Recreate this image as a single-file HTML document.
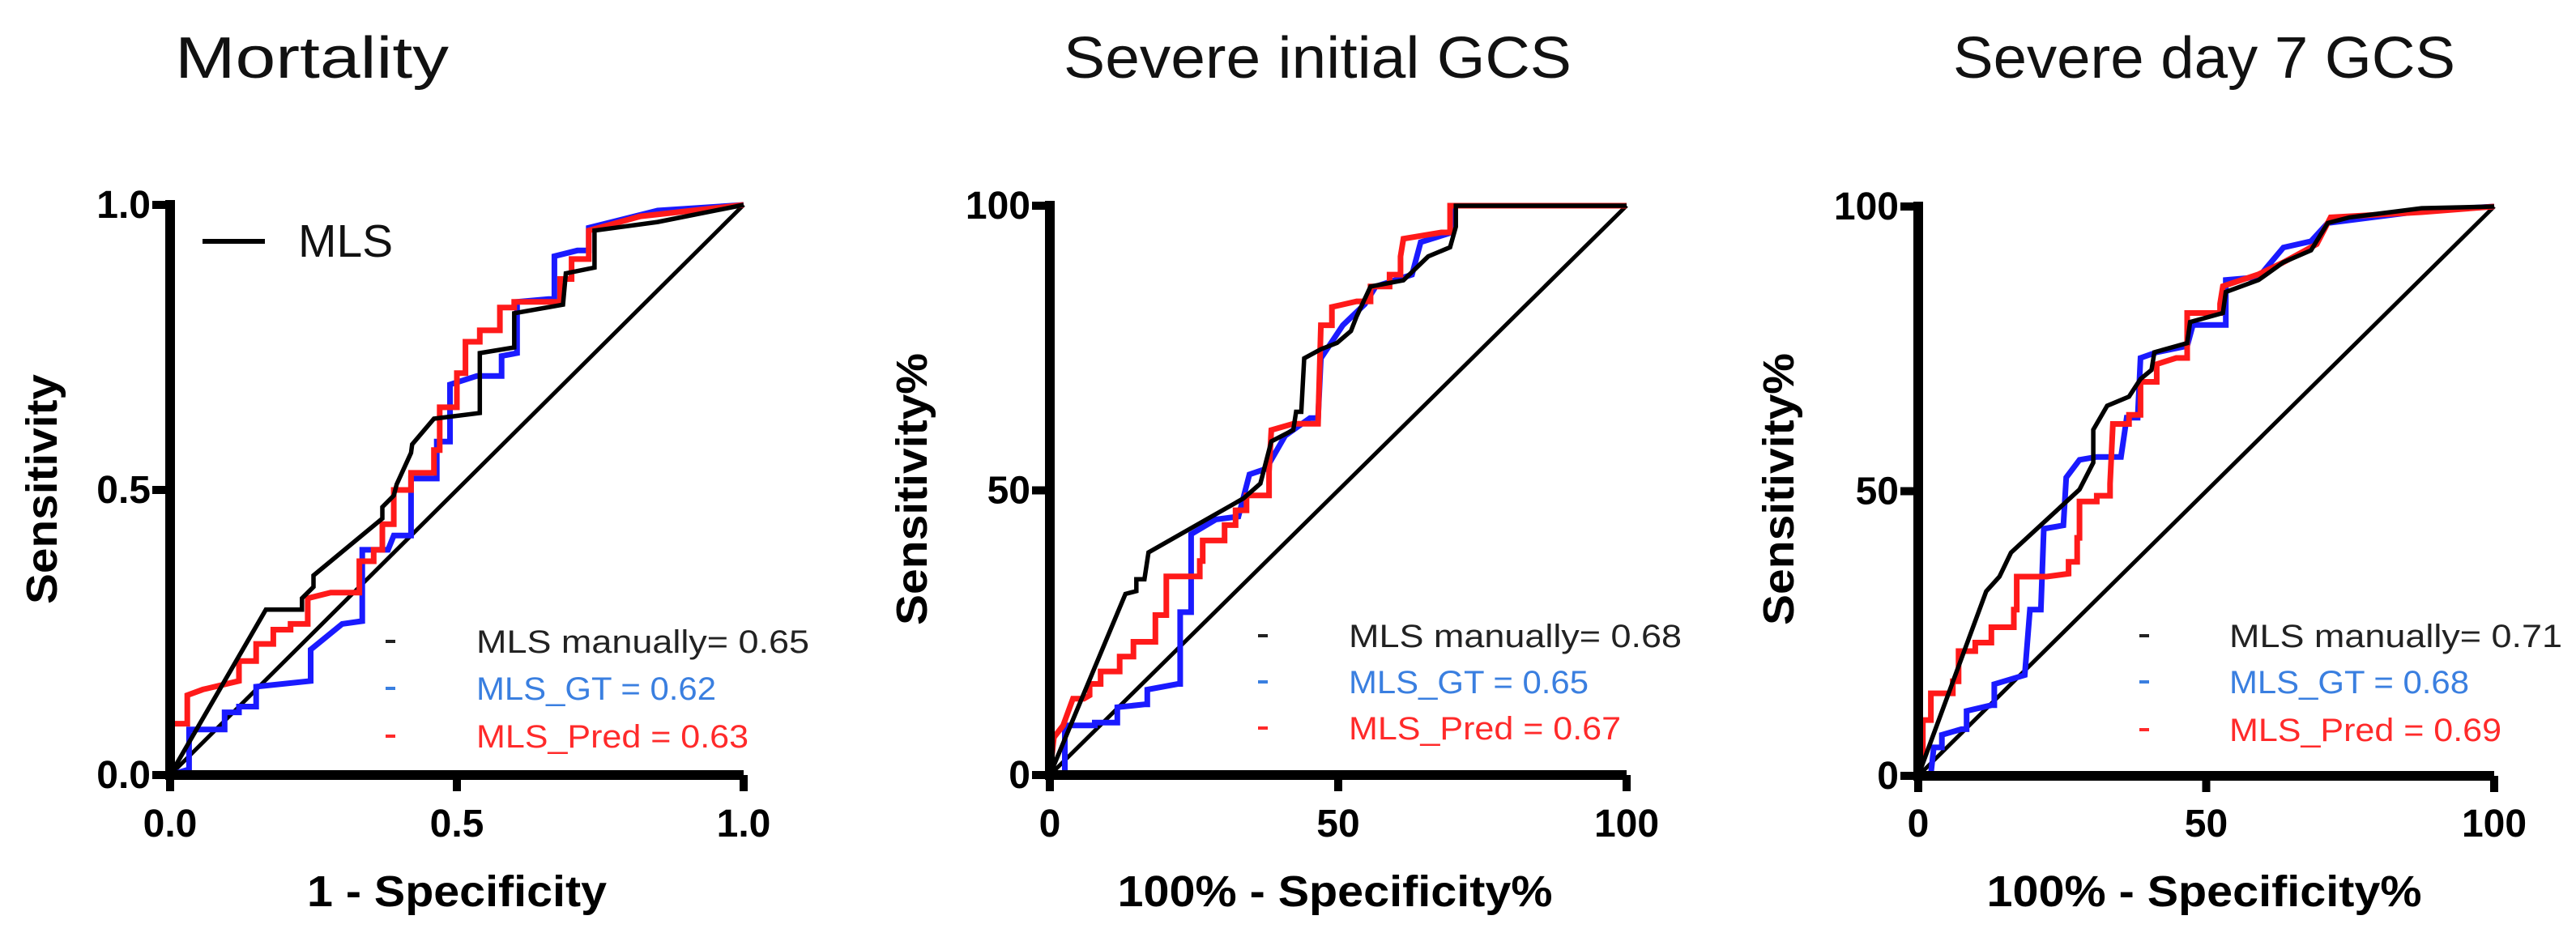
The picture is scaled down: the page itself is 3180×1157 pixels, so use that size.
<!DOCTYPE html>
<html><head><meta charset="utf-8"><style>
html,body{margin:0;padding:0;background:#fff;}
svg{display:block;}
text{font-family:"Liberation Sans",sans-serif;}
</style></head><body>
<svg id="chart" width="3180" height="1157" viewBox="0 0 3180 1157" xmlns="http://www.w3.org/2000/svg"></svg>
<script>
// ---- data ----
const panelTitles = ["Mortality", "Severe initial GCS", "Severe day 7 GCS"];
const xAxisTitles = ["1 - Specificity", "100% - Specificity%", "100% - Specificity%"];
const yAxisTitles = ["Sensitivity", "Sensitivity%", "Sensitivity%"];
const tickLabelsA = ["0.0", "0.5", "1.0"];
const tickLabelsB = ["0", "50", "100"];
const tickValues = [0, 50, 100];
const legendNames = ["MLS manually", "MLS_GT ", "MLS_Pred "];
const aucP1 = ["0.65", "0.62", "0.63"];
const aucP2 = ["0.68", "0.65", "0.67"];
const aucP3 = ["0.71", "0.68", "0.69"];

// Panel 1 (values in percent)
const p1BlackX = [0,16.7,23,23,25,25,37,37,39,39.5,42,42.2,46,54,54,60,60,68.5,69,74,74,85,100];
const p1BlackY = [0,29,29,31,33,35,45,47,49,51,56.5,58,62.5,63.5,74,75,81,82.5,88,89,95.5,97,100];
const p1RedX = [0,0,3,3,5.7,12,12,15,15,18,18,21,21,24,24,28,33,33,35.5,35.5,37,37,39,39,42,42,46,46,47,47,50,50,51.5,51.5,54,54,57.5,57.5,60,60,68,68,70,70,73,73,82,100];
const p1RedY = [0,9,9,14,15,16.5,20,20,23,23,25.5,25.5,26.5,26.5,31,32,32,37.5,37.5,39.5,39.5,44,44,50,50,53,53,57,57,64.5,64.5,70.5,70.5,76,76,78,78,82,82,83,83,87,87,90.5,90.5,95.5,98,100];
const p1BlueX = [0,3.3,3.3,8.5,9.5,9.5,12,12,15,15,24.5,24.5,30,30,33.5,33.5,38,39,39,42,42,46.5,46.5,48.8,48.8,53.5,57.8,57.8,60.5,60.5,66,67,67,71,73,73,85,100];
const p1BlueY = [0,1,8,8,8,11,11,12,12,15.5,16.5,22,26.5,26.5,27,39.5,39.5,42,42,42,52,52,58.5,58.5,68.5,70,70,73.5,74,83,83.5,83.5,91,92,92,96,99,100];
// Panel 2
const p2BlackX = [0,13.1,15,15,16.4,17.1,33.6,36.5,38.4,42.2,42.7,43.6,44.1,47,49.8,52.2,53.2,55.6,61.3,65.6,69.4,70.4,70.4,100];
const p2BlackY = [0,31.8,32.3,34.4,34.4,39.1,48.6,51.2,58.6,60.6,63.8,63.8,73.2,74.8,75.9,78,80.6,85.8,86.9,91.1,92.7,96.3,100,100];
const p2RedX = [0,0.7,2.3,2.3,4,5.9,6.9,6.9,8.8,8.8,12.1,12.1,14.5,14.5,18.3,18.3,20.2,20.2,24.1,24.1,26,26,26.5,26.5,30.3,30.3,32.2,32.2,34.1,34.1,38,38,38.4,42.2,46.5,46.5,47,48.9,48.9,53.2,55.6,55.6,58.9,58.9,60.8,60.8,61.3,67.9,69.4,69.4,100];
const p2RedY = [0,6.6,8.7,8.7,13.4,13.4,14,16,16,18.2,18.2,20.8,20.8,23.4,23.4,28.1,28.1,34.9,34.9,34.9,34.9,37.6,37.6,41.2,41.2,43.9,43.9,46.5,46.5,49.1,49.1,53.3,60.6,61.7,61.7,61.7,79,79,82.2,83.2,83.2,85.8,85.8,87.9,87.9,91.1,94.2,95.3,95.3,100,100];
const p2BlueX = [0,1.6,2.6,2.6,7.8,7.8,11.7,11.7,16.4,16.9,16.9,22.2,22.6,22.6,24.5,24.5,28.8,32.7,34.6,37.5,40.8,45.1,46.5,47,50.8,54.6,56.5,62.8,64.3,69.4,69.9,100];
const p2BlueY = [0,0.3,0.3,8.7,8.7,9.2,9.2,11.9,12.4,12.4,15,16,16,28.6,28.6,42.3,44.9,45.4,52.8,53.8,59.6,62.7,62.7,73.2,79,82.7,85.8,87.9,93.6,95.2,100,100];
// Panel 3
const p3BlackX = [0,11.8,14.1,16.1,28,30.4,30.4,32.8,36.6,38.6,40.5,41,46.7,47.2,52.9,53.4,59.1,63.4,68.2,71.1,74.9,87.4,100];
const p3BlackY = [0,32.4,35,39.2,50.3,55,60.8,65,66.6,69.7,71.3,74.4,76,79.7,81.3,85,87.1,90.2,92.3,97.1,98.1,99.7,100];
const p3RedX = [0,0,0.8,0.8,2.2,2.2,6,6,7,7,9.9,9.9,12.7,12.7,16.6,16.6,17.1,17.1,22.3,26.1,26.1,27.6,27.6,28,28,31,31,33.3,33.3,33.8,36.6,36.6,38.6,38.6,41.4,41.4,44.8,46.7,46.7,52.4,52.4,52.9,59.1,63.4,69.2,71.6,87.4,100];
const p3RedY = [0,3,3,9.8,9.8,14.5,14.5,16.6,16.6,21.9,21.9,23.4,23.4,26.1,26.1,29.2,29.2,35,35,35.5,37.6,37.6,41.8,41.8,48.2,48.2,49.2,49.2,51.3,61.8,61.8,63.4,63.4,69.2,69.2,72.3,73.4,73.4,81.3,81.3,82.9,86,88.1,90.2,93.4,98.1,99,100];
const p3BlueX = [0,2.2,2.7,4.1,4.1,7.5,8.4,8.4,12.7,13.2,13.2,18.5,19.4,21.3,21.8,25.2,25.7,28,30.9,35.2,36.2,38.1,38.6,41.4,46.7,47.7,53.4,53.4,59.1,63.4,68.2,71.1,87.4,100];
const p3BlueY = [0,0.3,5,5,7.2,8.2,8.2,11.4,12.4,12.4,16.1,17.7,29.2,29.2,43.4,44,52.4,55.5,56,56,62.9,62.9,73.4,74.4,75.5,79.2,79.2,87.1,87.6,92.8,93.9,97.1,99.2,100];

const panels = [
  {x0:210, x1:918, yTop:253, yBot:957, ticks:tickLabelsA, auc:aucP1,
   series:[[p1BlueX,p1BlueY],[p1RedX,p1RedY],[p1BlackX,p1BlackY]],
   title:{x:216, w:338}, xt:{c:564, w:370}, yt:{x:51, w:284}, leg:{dash:482, tx:588, y:[806,864,923]}},
  {x0:1296, x1:2008, yTop:254, yBot:957, ticks:tickLabelsB, auc:aucP2,
   series:[[p2BlueX,p2BlueY],[p2RedX,p2RedY],[p2BlackX,p2BlackY]],
   title:{x:1313, w:627}, xt:{c:1648, w:537}, yt:{x:1125, w:336}, leg:{dash:1559, tx:1665, y:[799,856,913]}},
  {x0:2368, x1:3079, yTop:255, yBot:958, ticks:tickLabelsB, auc:aucP3,
   series:[[p3BlueX,p3BlueY],[p3RedX,p3RedY],[p3BlackX,p3BlackY]],
   title:{x:2411, w:620}, xt:{c:2721, w:537}, yt:{x:2195, w:336}, leg:{dash:2647, tx:2752, y:[799,856,915]}}
];
const seriesColors = ["#1a1aff", "#ff1a1a", "#000"];
const seriesNames = ["mls-gt-curve", "mls-pred-curve", "mls-manual-curve"];
const legendColors = ["#222", "#3a7fe0", "#ff2a2a"];

const NS = "http://www.w3.org/2000/svg";
const svg = document.getElementById("chart");
function mk(tag, attrs, parent) {
  const e = document.createElementNS(NS, tag);
  for (const k in attrs) e.setAttribute(k, attrs[k]);
  (parent || svg).appendChild(e);
  return e;
}

panels.forEach((p, pi) => {
  const g = mk("g", {});
  
  
  const sx = v => p.x0 + (v / 100) * (p.x1 - p.x0);
  const sy = v => p.yBot - (v / 100) * (p.yBot - p.yTop);

  const t = mk("text", {x:p.title.x, y:96, "font-size":72, fill:"#111", textLength:p.title.w, lengthAdjust:"spacingAndGlyphs"}, g);
  t.textContent = panelTitles[pi];
  
  

  const d = mk("line", {x1:sx(0), y1:sy(0), x2:sx(100), y2:sy(100), stroke:"#000", "stroke-width":5}, g);
  
  

  p.series.forEach((s, si) => {
    const pts = s[0].map((xv, i) => sx(xv).toFixed(1) + "," + sy(s[1][i]).toFixed(1)).join(" ");
    const pl = mk("polyline", {points:pts, fill:"none", stroke:seriesColors[si], "stroke-width":si === 2 ? 5.5 : 7, "stroke-linejoin":"miter"}, g);
    
    
  });

  const ya = mk("line", {x1:p.x0, y1:p.yTop - 6, x2:p.x0, y2:p.yBot + 6, stroke:"#000", "stroke-width":12}, g);
  
  
  const xa = mk("line", {x1:p.x0 - 6, y1:p.yBot, x2:p.x1, y2:p.yBot, stroke:"#000", "stroke-width":12}, g);
  
  

  tickValues.forEach((tv, ti) => {
    mk("line", {x1:p.x0 - 22, y1:sy(tv), x2:p.x0, y2:sy(tv), stroke:"#000", "stroke-width":10}, g);
    mk("line", {x1:sx(tv), y1:p.yBot, x2:sx(tv), y2:p.yBot + 20, stroke:"#000", "stroke-width":10}, g);
    const yl = mk("text", {x:p.x0 - 24, y:sy(tv) + 16, "font-size":48, "font-weight":"bold", "text-anchor":"end", fill:"#000"}, g);
    yl.textContent = p.ticks[ti];
    
    
    const xl = mk("text", {x:sx(tv), y:1033, "font-size":48, "font-weight":"bold", "text-anchor":"middle", fill:"#000"}, g);
    xl.textContent = p.ticks[ti];
    
    
  });

  const xt = mk("text", {x:p.xt.c, y:1119, "font-size":54, "font-weight":"bold", "text-anchor":"middle", fill:"#000", textLength:p.xt.w, lengthAdjust:"spacingAndGlyphs"}, g);
  xt.textContent = xAxisTitles[pi];
  
  
  const yt = mk("text", {x:0, y:0, "font-size":54, "font-weight":"bold", "text-anchor":"middle", fill:"#000", textLength:p.yt.w, lengthAdjust:"spacingAndGlyphs", transform:"translate(" + (p.yt.x + 19) + ",604) rotate(-90)"}, g);
  yt.textContent = yAxisTitles[pi];
  
  

  const legW = [411, 296, 336];
  legendNames.forEach((n, li) => {
    const dsh = mk("rect", {x:p.leg.dash - 6, y:p.leg.y[li] - 16, width:12, height:4, fill:legendColors[li]}, g);
    
    
    const lt = mk("text", {x:p.leg.tx, y:p.leg.y[li], "font-size":40, fill:legendColors[li], textLength:legW[li], lengthAdjust:"spacingAndGlyphs"}, g);
    lt.textContent = n + "= " + p.auc[li];
    
    
  });
});

const ml = mk("line", {x1:250, y1:298, x2:327, y2:298, stroke:"#000", "stroke-width":6});


const mt = mk("text", {x:368, y:317, "font-size":57, fill:"#111"});
mt.textContent = "MLS";


</script>
</body></html>
